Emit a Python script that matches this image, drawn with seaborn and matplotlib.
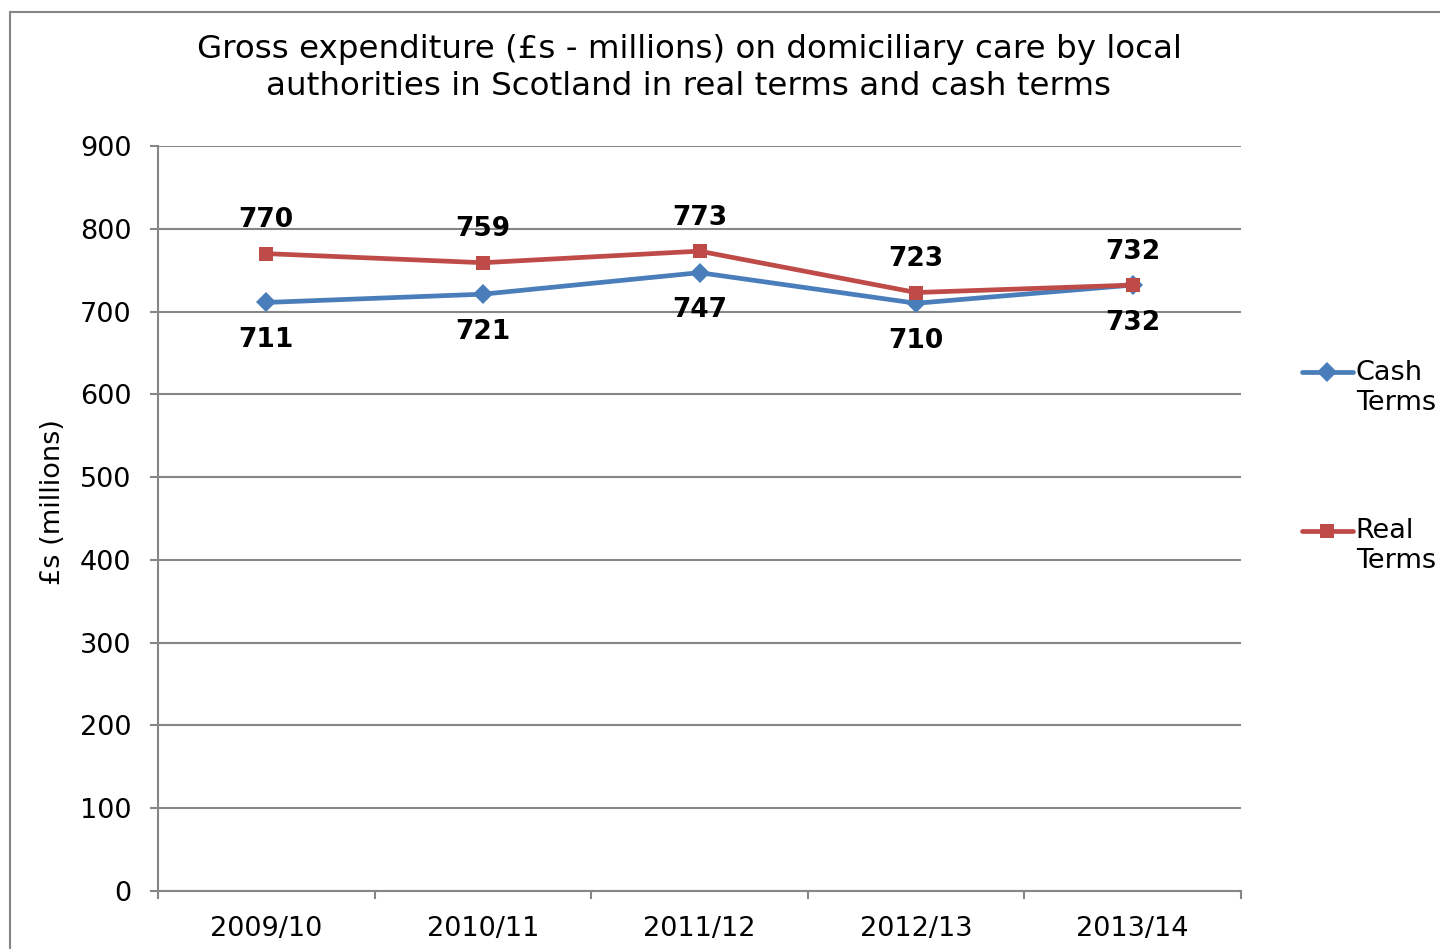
import matplotlib
matplotlib.use("Agg")
import matplotlib.pyplot as plt
from matplotlib.lines import Line2D
from matplotlib.legend_handler import HandlerLine2D
import pandas as pd
import seaborn as sns

years = ["2009/10", "2010/11", "2011/12", "2012/13", "2013/14"]
cash_terms = [711, 721, 747, 710, 732]
real_terms = [770, 759, 773, 723, 732]
series_names = ["Cash Terms", "Real Terms"]
y_ticks = [0, 100, 200, 300, 400, 500, 600, 700, 800, 900]

df = pd.DataFrame({
    "year": years * 2,
    "value": cash_terms + real_terms,
    "series": [series_names[0]] * len(years) + [series_names[1]] * len(years),
})

sns.set_style("white")
plt.rcParams["font.family"] = ["DejaVu Sans"]
plt.rcParams["text.color"] = "black"
plt.rcParams["axes.labelcolor"] = "black"
plt.rcParams["xtick.color"] = "black"
plt.rcParams["ytick.color"] = "black"

blue = "#4A7EBB"
red = "#BE4B48"
grid_col = "#868686"


class RaisedLineHandler(HandlerLine2D):
    # put the legend line level with the first line of a two-line label
    def create_artists(self, legend, orig_handle, xdescent, ydescent,
                       width, height, fontsize, trans):
        return super().create_artists(legend, orig_handle, xdescent,
                                      ydescent - 1.2 * fontsize, width, height,
                                      fontsize, trans)


fig = plt.figure(figsize=(14.4, 9.49), dpi=100)
ax = fig.add_axes([158 / 1440, 1 - 891 / 949, (1241 - 158) / 1440, (891 - 146) / 949])

sns.lineplot(data=df, x="year", y="value", hue="series", style="series",
             hue_order=series_names, palette={series_names[0]: blue, series_names[1]: red},
             markers={series_names[0]: "D", series_names[1]: "s"}, dashes=False,
             linewidth=3.4, markersize=10, markeredgewidth=0, legend=False, ax=ax, sort=False)

# data labels
for i, v in enumerate(cash_terms):
    ax.annotate(str(v), (i, v), xytext=(0, -27), textcoords="offset points",
                ha="center", va="center", fontsize=19, fontweight="bold", color="black")
for i, v in enumerate(real_terms):
    ax.annotate(str(v), (i, v), xytext=(0, 24), textcoords="offset points",
                ha="center", va="center", fontsize=19, fontweight="bold", color="black")

ax.set_ylim(0, 900)
ax.set_xlim(-0.5, len(years) - 0.5)
ax.set_yticks(y_ticks)
ax.set_yticklabels([str(t) for t in y_ticks], fontsize=19.5)
ax.yaxis.grid(True, color=grid_col, linewidth=1.5)
ax.set_axisbelow(True)

ax.set_xticks([i - 0.5 for i in range(len(years) + 1)])
ax.set_xticklabels([""] * (len(years) + 1))
ax.set_xticks(range(len(years)), minor=True)
ax.set_xticklabels(years, minor=True, fontsize=19.5)
ax.tick_params(axis="x", which="major", bottom=True, length=6, width=1.5,
               color=grid_col, direction="out")
ax.tick_params(axis="x", which="minor", bottom=True, length=0, pad=18)
ax.tick_params(axis="y", left=True, length=6, width=1.5, color=grid_col,
               direction="out", pad=13)

for side in ["top", "right"]:
    ax.spines[side].set_visible(False)
for side in ["left", "bottom"]:
    ax.spines[side].set_color(grid_col)
    ax.spines[side].set_linewidth(1.5)

ax.set_xlabel("")
ax.set_ylabel("£s (millions)", fontsize=19.5)
ax.yaxis.set_label_coords(-0.085, 0.522)

fig.text(689 / 1440, 1 - 68 / 949,
         "Gross expenditure (£s - millions) on domiciliary care by local\n"
         "authorities in Scotland in real terms and cash terms",
         ha="center", va="center", fontsize=23.4, linespacing=1.28)

handles = [
    Line2D([], [], color=blue, marker="D", linewidth=3.4, markersize=10, markeredgewidth=0),
    Line2D([], [], color=red, marker="s", linewidth=3.4, markersize=10, markeredgewidth=0),
]
fig.legend(handles, ["Cash\nTerms", "Real\nTerms"], loc="upper left",
           bbox_to_anchor=(1288 / 1440, 1 - 346 / 949), frameon=False,
           fontsize=19.5, handlelength=1.9, handletextpad=0.1, labelspacing=3.8,
           borderpad=0, numpoints=1,
           handler_map={Line2D: RaisedLineHandler()})

# chart frame
fig.add_artist(Line2D([10 / 1440, 10 / 1440], [0, 1 - 12 / 949], color=grid_col,
                      linewidth=1.5, transform=fig.transFigure))
fig.add_artist(Line2D([10 / 1440, 1], [1 - 12 / 949, 1 - 12 / 949], color=grid_col,
                      linewidth=1.5, transform=fig.transFigure))

fig.savefig("out.png", dpi=100)
